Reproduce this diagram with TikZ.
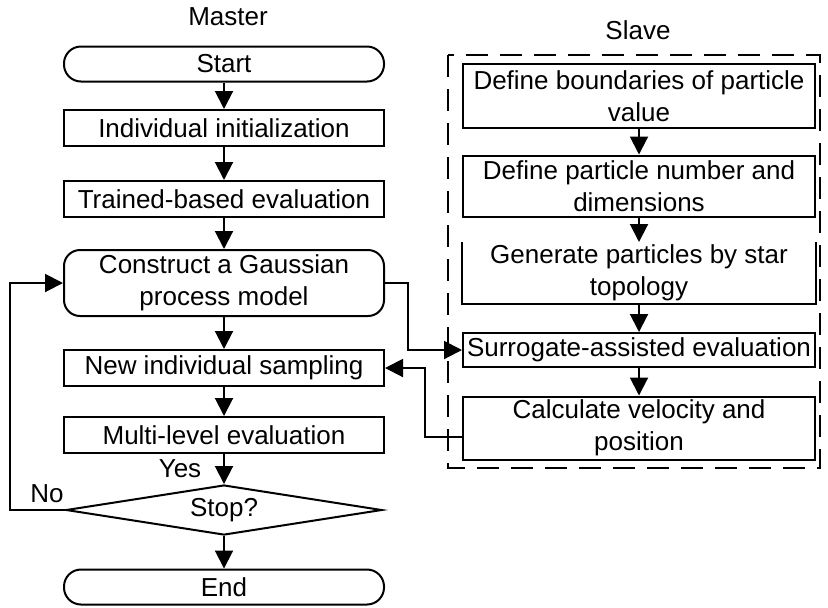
\documentclass[tikz,border=0pt]{standalone}
\usepackage{fontspec}
\setmainfont{Liberation Sans}
\usetikzlibrary{arrows.meta,shapes.geometric,positioning}
\tikzstyle{flow}=[every node/.style={draw=black,line width=1pt,align=center,
                inner sep=0pt,font=\fontsize{13}{16}\selectfont}, x=0.5pt, y=-0.5pt,
                line width=1pt, >={Triangle[width=9pt,length=9pt]}]
\tikzstyle{term}=[rounded corners=8.5pt, minimum width=160pt, minimum height=17.5pt]
\tikzstyle{proc}=[rectangle, minimum width=160pt, minimum height=18pt]
\tikzstyle{sproc}=[rectangle, minimum width=176pt]
\tikzstyle{decide}=[diamond, aspect=6, minimum width=158pt, minimum height=25pt]
\tikzstyle{tlabel}=[draw=none]
\tikzstyle{slavebox}=[dash pattern=on 11pt off 6pt]

\begin{document}
\begin{tikzpicture}[flow]
\path[use as bounding box] (0,0) rectangle (828,607);
% master side
\node[tlabel] (master) at (228,17) {Master};
\node[term] (start) at (224,64) {Start};
\node[proc] (init) at (224,128) {Individual initialization};
\node[proc] (train) at (224,199) {Trained-based evaluation};
\node[term, rounded corners=8pt, minimum height=33pt] (gp) at (224,283)
  {Construct a Gaussian\\process model};
\node[proc] (sample) at (224,368) {New individual sampling};
\node[proc] (multi) at (224,435) {Multi-level evaluation};
\node[decide] (stop) at (224,510) {Stop?};
\node[term] (end) at (224,587) {End};
\node[tlabel] (yes) at (180,469) {Yes};
\node[tlabel] (no) at (47,494) {No};
% slave side
\node[tlabel] (slave) at (638,30) {Slave};
\draw[slavebox] (448,55) rectangle (820,468);
\node[sproc, minimum height=32pt] (bnd) at (639,96)
  {Define boundaries of particle\\value};
\node[sproc, minimum height=30.5pt] (num) at (639,186)
  {Define particle number and\\dimensions};
\node[sproc, draw=none, minimum height=30pt] (gen) at (639,273)
  {Generate particles by star\\topology};
\draw (gen.north west) -- (gen.south west) -- (gen.south east) -- (gen.north east);
\node[sproc, minimum height=17pt] (surr) at (639,350) {Surrogate-assisted evaluation};
\node[sproc, minimum height=31.5pt] (calc) at (639,428)
  {Calculate velocity and\\position};
\coordinate (lft) at (10,510);
\coordinate (gpr) at (408,283);
\coordinate (calcl) at (425,437);
\path[->]
  (start) edge (init)
  (init) edge (train)
  (train) edge (gp)
  (gp) edge (sample)
  (sample) edge (multi)
  (multi) edge (stop)
  (stop) edge (end)
  (bnd) edge (num)
  (num) edge (gen)
  (gen) edge (surr)
  (surr) edge (calc);
\draw[->] (stop.west) -- (lft) |- (gp.west);
\draw[->] (gp.east) -- (gpr) |- (surr.west);
\draw[->] (calc.west |- calcl) -- (calcl) |- (sample.east);
\end{tikzpicture}
\end{document}
